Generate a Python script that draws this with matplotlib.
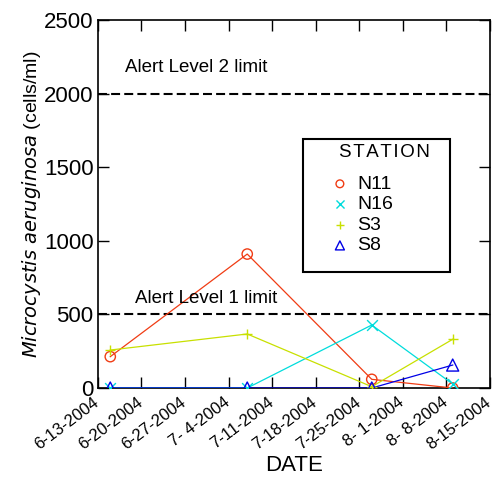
import numpy as np
import matplotlib
matplotlib.use('Agg')
import matplotlib.pyplot as plt
import matplotlib.dates as mdates
import matplotlib.transforms as mtransforms
from matplotlib.patches import Rectangle
from datetime import datetime

plt.rcParams['font.family'] = ['Liberation Sans', 'DejaVu Sans']

# sampling dates and counts (cells/ml)
sample_dates = ['2004-06-15', '2004-07-07', '2004-07-27', '2004-08-09']
n11 = [213, 910, 59, 0]
n16 = [0, 0, 428, 27]
s3 = [258, 367, 9, 331]
s8 = [0, 0, 0, 156]

tick_dates = ['2004-06-13', '2004-06-20', '2004-06-27', '2004-07-04', '2004-07-11',
              '2004-07-18', '2004-07-25', '2004-08-01', '2004-08-08', '2004-08-15']
tick_labels = ['6-13-2004', '6-20-2004', '6-27-2004', '7- 4-2004', '7-11-2004',
               '7-18-2004', '7-25-2004', '8- 1-2004', '8- 8-2004', '8-15-2004']

alert1 = 500
alert2 = 2000

x = mdates.date2num([datetime.strptime(d, '%Y-%m-%d') for d in sample_dates])
xt = mdates.date2num([datetime.strptime(d, '%Y-%m-%d') for d in tick_dates])

fig = plt.figure(figsize=(4.94, 4.82), dpi=100)
ax = fig.add_axes([0.198, 0.195, 0.794, 0.7635])

series = [('N11', n11, '#f03c14', 'o'), ('N16', n16, '#00dcdc', 'x'),
          ('S3', s3, '#c8e000', '+'), ('S8', s8, '#0000e6', '^')]
handles = []
for name, vals, c, m in series:
    ax.plot(x, vals, color=c, lw=0.9, zorder=3)
    h = ax.scatter(x, vals, marker=m, s=60 if m in 'x+' else (75 if m == '^' else 55),
                   facecolors='none' if m in 'o^' else c, edgecolors=c,
                   linewidths=1.0, zorder=4, label=name)
    handles.append(h)

ax.axhline(alert2, color='black', ls=(0, (4.3, 2)), lw=1.5, zorder=2)
ax.axhline(alert1, color='black', ls=(0, (4.3, 2)), lw=1.5, zorder=2)
ax.text(xt[0] + 4.3, 2174, 'Alert Level 2 limit', fontsize=13.5, va='center')
ax.text(xt[0] + 5.9, 611, 'Alert Level 1 limit', fontsize=13.5, va='center')

ax.set_xlim(xt[0], xt[-1])
ax.set_ylim(0, 2500)
ax.set_xticks(xt)
ax.set_xticklabels(tick_labels, rotation=37, ha='right', rotation_mode='anchor', fontsize=12)
ax.set_yticks(np.arange(0, 2501, 500))
ax.tick_params(axis='y', labelsize=16, pad=3)
ax.tick_params(axis='x', pad=5)
ax.tick_params(direction='in', length=8, width=1, top=True, right=True)
shift = mtransforms.ScaledTranslation(-5 / 100, 0, fig.dpi_scale_trans)
for lab in ax.get_xticklabels():
    lab.set_transform(lab.get_transform() + shift)
for s in ax.spines.values():
    s.set_linewidth(1.2)

ax.set_xlabel('DATE', fontsize=16, labelpad=2)
ax.set_ylabel(r'$\it{Microcystis\ aeruginosa}$ (cells/ml)', fontsize=14, labelpad=1)

# legend box, title and entries
ax.add_patch(Rectangle((0.523, 0.315), 0.375, 0.3616, transform=ax.transAxes,
                       fill=True, facecolor='white', edgecolor='black', lw=1.5, zorder=5))
ax.text(0.7296, 0.641, 'S\u200aT\u200aA\u200aT\u200aI\u200aO\u200aN', transform=ax.transAxes,
        ha='center', va='center', fontsize=13.5, zorder=6)
leg = ax.legend(handles=handles, loc='upper left', bbox_to_anchor=(0.5676, 0.578),
                fontsize=14, frameon=False, handletextpad=-0.1, borderpad=0,
                labelspacing=0.15, handlelength=2.0, markerscale=0.75,
                borderaxespad=0)
leg.set_zorder(7)

fig.savefig('out.png', dpi=100)
